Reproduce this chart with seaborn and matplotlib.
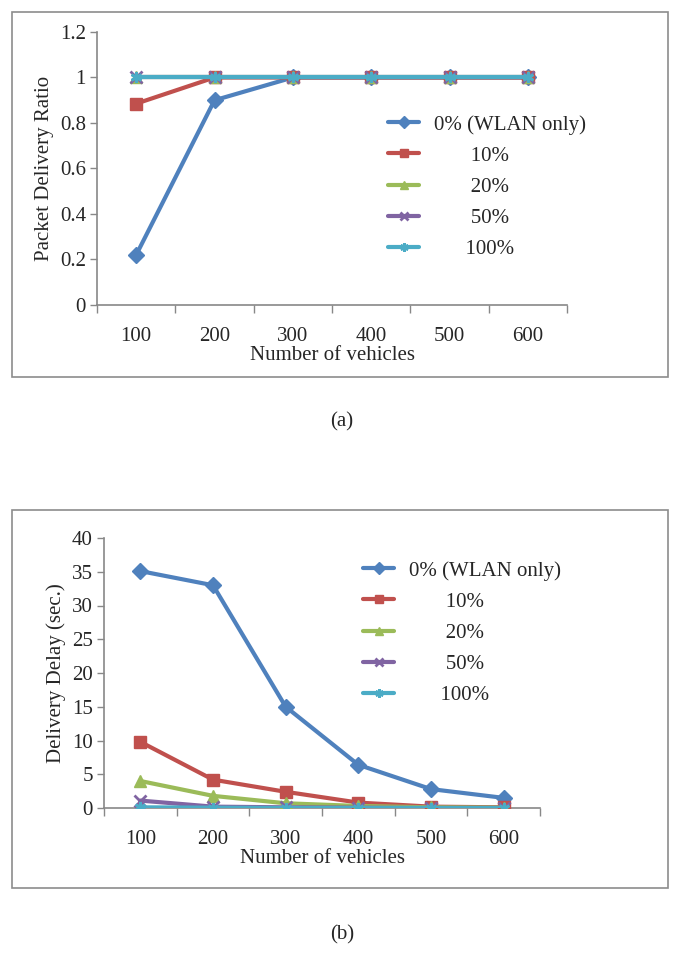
import seaborn as sns
import pandas as pd
import matplotlib.pyplot as plt
from matplotlib.patches import Rectangle
from matplotlib.ticker import FixedLocator

vehicles = ['100', '200', '300', '400', '500', '600']
series = ['0% (WLAN only)', '10%', '20%', '50%', '100%']
legend_labels = ['0% (WLAN only)', '       10%', '       20%', '       50%', '      100%']

# (a) packet delivery ratio
pdr_0 = [0.22, 0.90, 1.0, 1.0, 1.0, 1.0]
pdr_10 = [0.885, 1.0, 1.0, 1.0, 1.0, 1.0]
pdr_20 = [1.0, 1.0, 1.0, 1.0, 1.0, 1.0]
pdr_50 = [1.0, 1.0, 1.0, 1.0, 1.0, 1.0]
pdr_100 = [1.0, 1.0, 1.0, 1.0, 1.0, 1.0]

# (b) delivery delay in seconds
delay_0 = [35.1, 33.0, 15.0, 6.4, 2.8, 1.5]
delay_10 = [9.8, 4.2, 2.4, 0.8, 0.2, 0.1]
delay_20 = [4.0, 1.8, 0.7, 0.3, 0.1, 0.05]
delay_50 = [1.1, 0.2, 0.1, 0.05, 0.0, 0.0]
delay_100 = [0.1, 0.05, 0.0, 0.0, 0.0, 0.0]

colors = ['#4F81BD', '#C0504D', '#9BBB59', '#8064A2', '#4BACC6']
markers = ['D', 's', '^', 'x', (6, 2, 0)]

sns.set_style('white')
plt.rcParams['font.family'] = ['Liberation Serif', 'DejaVu Serif']

W, H = 685, 956
fig = plt.figure(figsize=(W / 100, H / 100), dpi=100)


def make_df(values):
    rows = []
    for name, vals in zip(series, values):
        for i, v in enumerate(vals):
            rows.append({'idx': i, 'value': v, 'series': name})
    return pd.DataFrame(rows)


def px_axes(x0, y0, x1, y1):
    # pixel box -> figure fraction
    return fig.add_axes([x0 / W, 1 - y1 / H, (x1 - x0) / W, (y1 - y0) / H])


def draw_panel(ax, df, ylim, yticks, ylabel, ytickfmt, legend_pos):
    for k, name in enumerate(series):
        sub = df[df['series'] == name]
        sns.lineplot(data=sub, x='idx', y='value', ax=ax, color=colors[k],
                     marker=markers[k], markersize=8, markeredgecolor=colors[k],
                     markeredgewidth=2 if k >= 3 else 1, linewidth=3,
                     label=legend_labels[k], zorder=3 + k)
    ax.set_xlim(-0.5, 5.5)
    ax.set_ylim(*ylim)
    ax.set_yticks(yticks)
    ax.set_yticklabels([ytickfmt(t) for t in yticks])
    ax.xaxis.set_major_locator(FixedLocator([i - 0.5 for i in range(7)]))
    ax.xaxis.set_minor_locator(FixedLocator(list(range(6))))
    ax.set_xticklabels([], minor=False)
    ax.set_xticklabels(vehicles, minor=True)
    ax.tick_params(axis='x', which='major', direction='out', length=6, color='#888888', width=1, bottom=True)
    ax.tick_params(axis='x', which='minor', length=0, pad=16, labelsize=15)
    ax.tick_params(axis='y', direction='out', length=5, color='#888888', width=1, left=True, labelsize=15, pad=3)
    for s in ['top', 'right']:
        ax.spines[s].set_visible(False)
    for s in ['left', 'bottom']:
        ax.spines[s].set_color('#888888')
        ax.spines[s].set_linewidth(1.2)
    ax.set_xlabel('Number of vehicles', fontsize=15, labelpad=0)
    ax.set_ylabel(ylabel, fontsize=15, labelpad=4)
    ax.patch.set_alpha(0)
    leg = ax.legend(loc='upper left', bbox_to_anchor=legend_pos, frameon=False,
                    fontsize=15, handlelength=1.5, labelspacing=0.55, handletextpad=0.7,
                    borderaxespad=0, borderpad=0)
    for line in leg.get_lines():
        line.set_linewidth(3)
        line.set_markersize(6)


# borders of the two chart boxes
for (x0, y0, x1, y1) in [(12, 12, 668, 377), (12, 510, 668, 888)]:
    fig.add_artist(Rectangle((x0 / W, 1 - y1 / H), (x1 - x0) / W, (y1 - y0) / H,
                             transform=fig.transFigure, fill=False,
                             edgecolor='#8c8c8c', linewidth=1.2))

ax1 = px_axes(97, 32, 567, 305)
draw_panel(ax1, make_df([pdr_0, pdr_10, pdr_20, pdr_50, pdr_100]),
           (0, 1.2), [0, 0.2, 0.4, 0.6, 0.8, 1.0, 1.2], 'Packet Delivery Ratio',
           lambda t: '0' if t == 0 else ('1' if t == 1 else f'{t:.1f}'),
           ((388 - 97) / 470, (305 - 115) / 273))

ax2 = px_axes(104, 538, 540, 808)
draw_panel(ax2, make_df([delay_0, delay_10, delay_20, delay_50, delay_100]),
           (0, 40), [0, 5, 10, 15, 20, 25, 30, 35, 40], 'Delivery Delay (sec.)',
           lambda t: f'{t:d}', ((363 - 104) / 436, (808 - 561) / 270))

fig.text(342 / W, 1 - 422 / H, '(a)', ha='center', va='center', fontsize=15)
fig.text(342 / W, 1 - 935 / H, '(b)', ha='center', va='center', fontsize=15)

fig.savefig('out.png', dpi=100)
